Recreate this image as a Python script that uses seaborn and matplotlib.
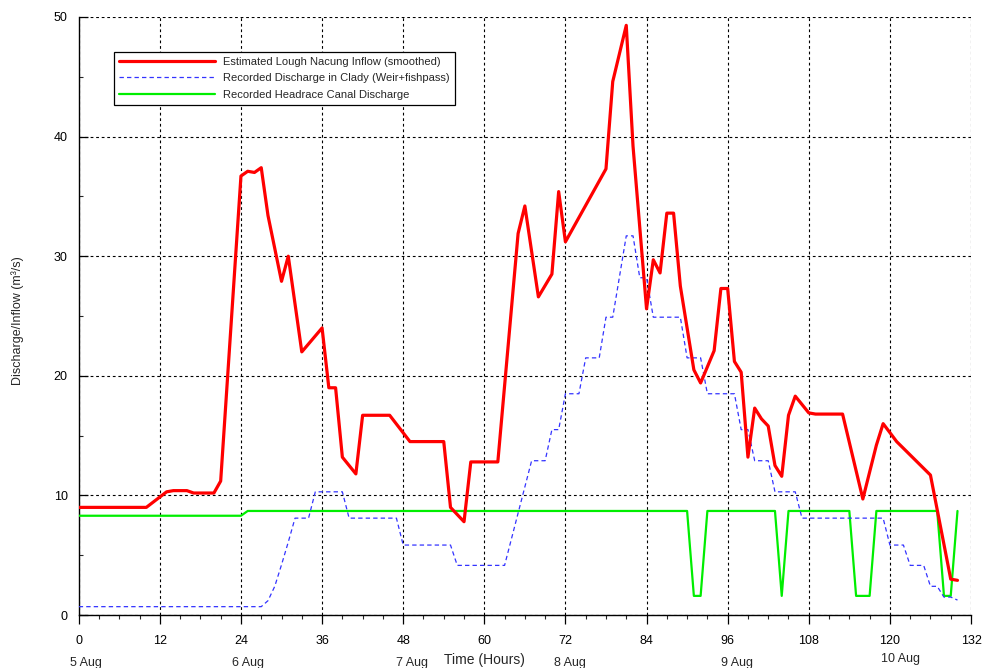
import matplotlib
matplotlib.use("Agg")
import matplotlib.pyplot as plt
import matplotlib.transforms as mtransforms
from matplotlib.ticker import MultipleLocator
import numpy as np
import pandas as pd
import seaborn as sns

# ---------------- data ----------------
inflow_hours = [0, 10, 13, 14, 16, 17, 20, 21, 24, 25, 26, 27, 28, 30, 31, 33, 36, 37, 38, 39,
                41, 42, 46, 49, 54, 55, 57, 58, 62, 65, 66, 68, 70, 71, 72, 78, 79, 81, 82,
                84, 85, 86, 87, 88, 89, 91, 92, 94, 95, 96, 97, 98, 99, 100, 101, 102, 103,
                104, 105, 106, 108, 109, 113, 116, 118, 119, 121, 126, 129, 130]
inflow_values = [9.0, 9.0, 10.3, 10.4, 10.4, 10.2, 10.2, 11.2, 36.7, 37.1, 37.0, 37.4, 33.4,
                 27.9, 30.0, 22.0, 24.0, 19.0, 19.0, 13.2, 11.8, 16.7, 16.7, 14.5, 14.5, 9.0,
                 7.8, 12.8, 12.8, 31.9, 34.2, 26.6, 28.5, 35.4, 31.2, 37.3, 44.6, 49.3, 39.2,
                 25.6, 29.7, 28.6, 33.6, 33.6, 27.5, 20.5, 19.4, 22.1, 27.3, 27.3, 21.2, 20.3,
                 13.2, 17.3, 16.4, 15.8, 12.5, 11.6, 16.7, 18.3, 16.9, 16.8, 16.8, 9.7, 14.2,
                 16.0, 14.5, 11.7, 3.0, 2.9]

clady_hours = [0, 27, 28, 29, 30, 31, 32, 34, 35, 39, 40, 47, 48, 55, 56, 63, 67, 69, 70, 71,
               72, 74, 75, 77, 78, 79, 81, 82, 83, 84, 85, 89, 90, 92, 93, 97, 98, 99, 100,
               102, 103, 106, 107, 119, 120, 122, 123, 125, 126, 127, 128, 129, 130]
clady_values = [0.7, 0.7, 1.2, 2.4, 4.2, 6.1, 8.1, 8.1, 10.3, 10.3, 8.1, 8.1, 5.85, 5.85, 4.15,
                4.15, 12.9, 12.9, 15.5, 15.5, 18.5, 18.5, 21.5, 21.5, 24.9, 24.9, 31.7, 31.7,
                28.2, 28.2, 24.9, 24.9, 21.5, 21.5, 18.5, 18.5, 15.5, 15.5, 12.9, 12.9, 10.3,
                10.3, 8.1, 8.1, 5.85, 5.85, 4.15, 4.15, 2.4, 2.4, 1.5, 1.5, 1.25]

canal_hours = [0, 24, 25, 90, 91, 92, 93, 103, 104, 105, 114, 115, 117, 118, 127, 128, 129, 130]
canal_values = [8.3, 8.3, 8.7, 8.7, 1.6, 1.6, 8.7, 8.7, 1.6, 8.7, 8.7, 1.6, 1.6, 8.7, 8.7,
                1.6, 1.6, 8.7]

series_names = ["Estimated Lough Nacung Inflow (smoothed)",
                "Recorded Discharge in Clady (Weir+fishpass)",
                "Recorded Headrace Canal Discharge"]

date_labels = ["5 Aug", "6 Aug", "7 Aug", "8 Aug", "9 Aug", "10 Aug"]
date_hours = [1.1, 25.0, 49.3, 72.7, 97.4, 121.5]

x_ticks = list(range(0, 133, 12))
y_ticks = [0, 10, 20, 30, 40, 50]

# ---------------- style ----------------
sns.set_style("ticks")
plt.rcParams["font.family"] = ["Liberation Sans", "DejaVu Sans"]

fig = plt.figure(figsize=(9.84, 6.68), dpi=100)
ax = fig.add_axes([0.080, 0.0793, 0.9068, 0.8953])

df_in = pd.DataFrame({"h": inflow_hours, "v": inflow_values})
df_cl = pd.DataFrame({"h": clady_hours, "v": clady_values})
df_ca = pd.DataFrame({"h": canal_hours, "v": canal_values})

sns.lineplot(data=df_in, x="h", y="v", ax=ax, color="#ff0000", linewidth=2.3,
             label=series_names[0], sort=False, estimator=None, zorder=5)
sns.lineplot(data=df_cl, x="h", y="v", ax=ax, color="#3333ff", linewidth=0.9,
             label=series_names[1], sort=False, estimator=None, zorder=4,
             dashes=False)
ax.lines[-1].set_linestyle((0, (3.5, 2.5)))
sns.lineplot(data=df_ca, x="h", y="v", ax=ax, color="#00ee00", linewidth=1.6,
             label=series_names[2], sort=False, estimator=None, zorder=3)

ax.set_xlim(0, 132)
ax.set_ylim(0, 50)
ax.set_xticks(x_ticks)
ax.set_yticks(y_ticks)
ax.xaxis.set_minor_locator(MultipleLocator(3))
ax.yaxis.set_minor_locator(MultipleLocator(5))

ax.grid(True, which="major", color="black", linestyle=(0, (2.5, 2.5)), linewidth=0.8)
for s in ["top", "right"]:
    ax.spines[s].set_visible(False)
for s in ["left", "bottom"]:
    ax.spines[s].set_color("black")
    ax.spines[s].set_linewidth(1.0)

ax.tick_params(axis="x", which="major", direction="out", length=6.5, width=0.9,
               pad=8, labelsize=9, colors="black")
ax.tick_params(axis="x", which="minor", direction="out", length=3.2, width=0.8)
ax.tick_params(axis="y", which="major", direction="in", length=6.5, width=0.9,
               pad=8, labelsize=9, colors="black")
ax.tick_params(axis="y", which="minor", direction="in", length=3.2, width=0.8)

ax.set_xlabel("Time (Hours)", fontsize=10)
ax.xaxis.set_label_coords(0.455, -0.064)
ax.set_ylabel("Discharge/Inflow (m³/s)", fontsize=9)
ax.yaxis.set_label_coords(-0.061, 0.493)

trans = mtransforms.blended_transform_factory(ax.transData, ax.transAxes)
for lab, h in zip(date_labels, date_hours):
    yy = -0.080 if lab != "10 Aug" else -0.074
    ax.text(h, yy, lab, transform=trans, ha="center", va="center", fontsize=9,
            clip_on=False)

leg = ax.legend(loc="upper left", bbox_to_anchor=(0.0396, 0.942), borderaxespad=0,
                fontsize=8, frameon=True, fancybox=False, framealpha=1,
                edgecolor="black", handlelength=8.6, handletextpad=0.8,
                labelspacing=0.6, borderpad=0.45)
leg.get_frame().set_linewidth(0.9)

fig.savefig("out.png", dpi=100)
